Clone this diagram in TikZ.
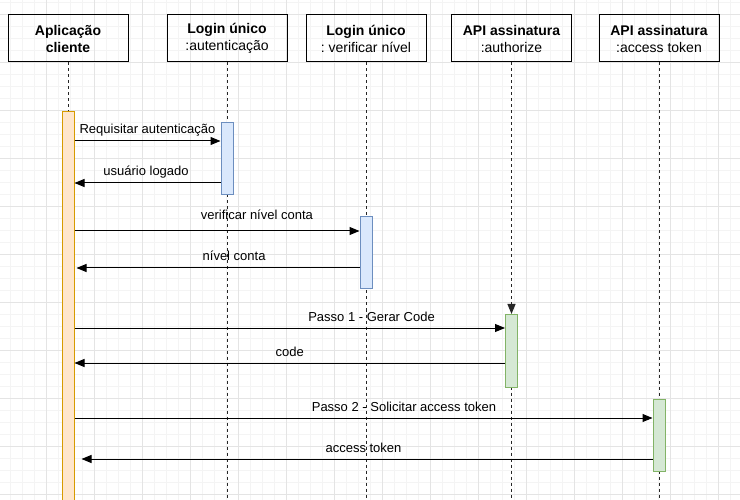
\documentclass[tikz,border=0pt]{standalone}
\usepackage{fontspec}
\setmainfont{Liberation Sans}
\usepackage{tikz}
\usetikzlibrary{arrows.meta, positioning}
\usepackage{xcolor}
\definecolor{gridmajor}{HTML}{E4E4E4}
\definecolor{gridminor}{HTML}{F4F4F4}
\definecolor{orangefill}{HTML}{FFE6CC}
\definecolor{orangeline}{HTML}{D79B00}
\definecolor{bluefill}{HTML}{DAE8FC}
\definecolor{blueline}{HTML}{6C8EBF}
\definecolor{greenfill}{HTML}{D5E8D4}
\definecolor{greenline}{HTML}{82B366}
\frenchspacing

\begin{document}
\begin{tikzpicture}[x=1pt, y=-1pt,
		headbox/.style={draw, line width=1pt, minimum width=120, minimum height=47, inner sep=0pt, align=center, font=\fontsize{14}{17}\selectfont},
		lifeline/.style={line width=1pt, black!85, dash pattern=on 3pt off 3pt},
		actbox/.style={draw, line width=1pt, minimum width=12, minimum height=72, inner sep=0pt, anchor=north},
		actorange/.style={actbox, fill=orangefill, draw=orangeline},
		actblue/.style={actbox, fill=bluefill, draw=blueline},
		actgreen/.style={actbox, fill=greenfill, draw=greenline},
		msgarrow/.style={-{Triangle[length=10pt,width=8pt]}, line width=1pt},
		msglabel/.style={anchor=base, inner sep=0pt, yshift=7pt, font=\fontsize{13}{15}\selectfont}]
		\useasboundingbox[fill=white] (0,0) rectangle (740,500);
		
		% grid
		\foreach \gx in {-2,10,...,742} \draw[gridminor, line width=0.7pt] (\gx,0) -- (\gx,500);
		\foreach \gy in {2,14,...,500} \draw[gridminor, line width=0.7pt] (0,\gy) -- (740,\gy);
		\foreach \gx in {-2,46,...,742} \draw[gridmajor, line width=0.8pt] (\gx,0) -- (\gx,500);
		\foreach \gy in {14,62,...,500} \draw[gridmajor, line width=0.8pt] (0,\gy) -- (740,\gy);
		
		\node[headbox] (app) at (68,38.5) {\bfseries Aplicação\\\bfseries cliente};
		\node[headbox] (login) at (227,38.5) {\bfseries Login único\\:autenticação};
		\node[headbox] (nivel) at (366,38.5) {\bfseries Login único\\: verificar nível};
		\node[headbox] (authz) at (511.5,38.5) {\bfseries API assinatura\\:authorize};
		\node[headbox] (token) at (659,38.5) {\bfseries API assinatura\\:access token};
		\coordinate (bottom) at (0,500);
		
		\foreach \h in {app, login, nivel, authz, token}
			\draw[lifeline] (\h.south) -- (\h.south |- bottom);
		
		\node[actorange, minimum height=395] (act0) at (app.south |- 0,111) {};
		\node[actblue] (act1) at (login.south |- 0,122) {};
		\node[actblue] (act2) at (nivel.south |- 0,216) {};
		\node[actgreen, minimum height=73] (act3) at (authz.south |- 0,314) {};
		\node[actgreen] (act4) at (token.south |- 0,399) {};
		
		\draw[lifeline, -{Triangle[length=10pt,width=8pt]}] (authz.south) -- (act3.north);
		
		\draw[msgarrow] (act0.east |- 0,141) -- (act1.west |- 0,141) node[msglabel, pos=0.5] {Requisitar autenticação};
		\draw[msgarrow] (act1.west |- 0,183) -- (act0.east |- 0,183) node[msglabel, pos=0.51] {usuário logado};
		\draw[msgarrow] (act0.east |- 0,231) -- (act2.west |- 0,231) node[msglabel, pos=0.64, yshift=4pt] {verificar nível conta};
		\draw[msgarrow, shorten >=2pt] (act2.west |- 0,268) -- (act0.east |- 0,268) node[msglabel, pos=0.44] {nível conta};
		\draw[msgarrow] (act0.east |- 0,328) -- (act3.west |- 0,328) node[msglabel, pos=0.69] {Passo 1 - Gerar Code};
		\draw[msgarrow] (act3.west |- 0,363) -- (act0.east |- 0,363) node[msglabel, pos=0.5] {code};
		\draw[msgarrow] (act0.east |- 0,418) -- (act4.west |- 0,418) node[msglabel, pos=0.57] {Passo 2 - Solicitar access token};
		\draw[msgarrow, shorten >=7pt] (act4.west |- 0,459) -- (act0.east |- 0,459) node[msglabel, pos=0.5] {access token};
	\end{tikzpicture}
\end{document}
